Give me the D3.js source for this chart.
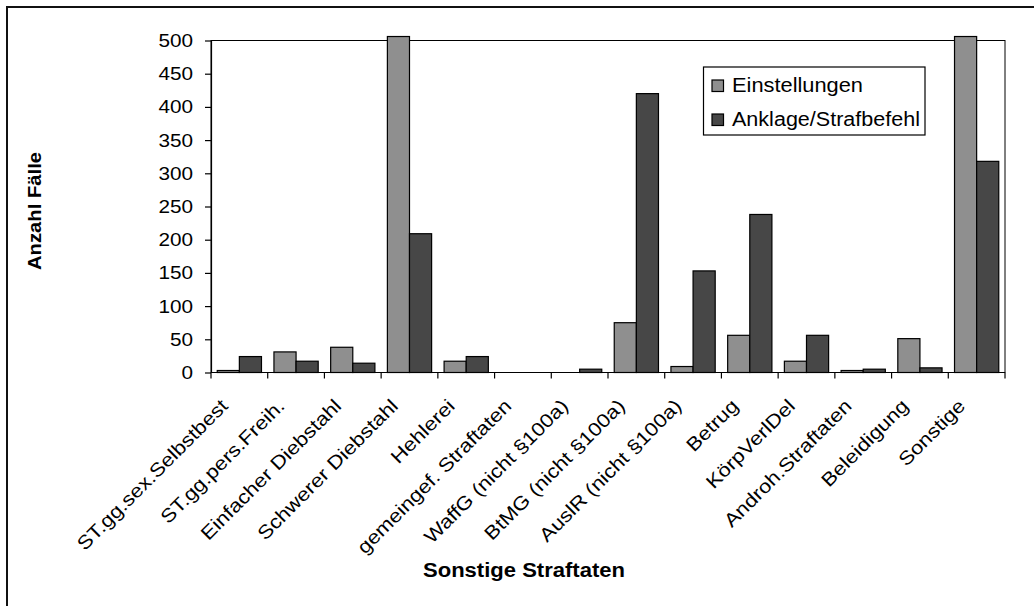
<!DOCTYPE html>
<html><head><meta charset="utf-8">
<script src="https://cdn.jsdelivr.net/npm/d3@7"></script>
<style>
body{margin:0;background:#fff}
svg{display:block;font-family:"Liberation Sans",Arial,sans-serif}
</style>
</head><body>
<svg id="c" width="1034" height="606"></svg>
<script>
const categories = ["ST.gg.sex.Selbstbest","ST.gg.pers.Freih.","Einfacher Diebstahl","Schwerer Diebstahl","Hehlerei","gemeingef. Straftaten","WaffG (nicht §100a)","BtMG (nicht §100a)","AuslR (nicht §100a)","Betrug","KörpVerlDel","Androh.Straftaten","Beleidigung","Sonstige"];
const seriesNames = ["Einstellungen","Anklage/Strafbefehl"];
// bars over 500 run past the top of the value axis in the original
const einstellungen = [3, 31, 38, 506, 17, 0, 0, 75, 9, 56, 17, 3, 51, 506];
const anklage = [24, 17, 14, 209, 24, 0, 5, 420, 153, 238, 56, 5, 7, 318];
const yTicks = [0, 50, 100, 150, 200, 250, 300, 350, 400, 450, 500];
const colors = ["#8f8f8f", "#474747"];
const xTitle = "Sonstige Straftaten";
const yTitle = "Anzahl Fälle";

const svg = d3.select("#c");
const W = 1034, H = 606;
const m = {left: 211, right: 1005, top: 40.5, bottom: 372.5};

function stretch(sel, factor) {
  sel.each(function () {
    const L = this.getComputedTextLength();
    d3.select(this).attr("textLength", L * factor).attr("lengthAdjust", "spacingAndGlyphs");
  });
}

svg.append("rect").attr("width", W).attr("height", H).attr("fill", "#fff");
// outer chart frame (cut at right/bottom)
svg.append("path").attr("d", "M7,606 V7 H1034").attr("fill", "none")
  .attr("stroke", "#111").attr("stroke-width", 2);

const x0 = d3.scaleBand().domain(categories).range([m.left, m.right])
  .paddingInner(0.22).paddingOuter(0.11);
const x1 = d3.scaleBand().domain(seriesNames).range([0, x0.bandwidth()]);
const y = d3.scaleLinear().domain([0, 500]).range([m.bottom, m.top]);

// plot area frame
svg.append("rect").attr("x", m.left).attr("y", m.top)
  .attr("width", m.right - m.left).attr("height", m.bottom - m.top)
  .attr("fill", "#fff").attr("stroke", "#000").attr("stroke-width", 1);

const data = categories.map((c, i) => ({cat: c, vals: [einstellungen[i], anklage[i]]}));
const groups = svg.append("g").selectAll("g").data(data).join("g")
  .attr("transform", d => `translate(${x0(d.cat)},0)`);
groups.selectAll("rect").data(d => d.vals.map((v, j) => ({s: seriesNames[j], v, j})))
  .join("rect")
  .attr("x", d => x1(d.s))
  .attr("y", d => y(d.v))
  .attr("width", x1.bandwidth())
  .attr("height", d => y(0) - y(d.v))
  .attr("fill", d => colors[d.j])
  .attr("stroke", "#000").attr("stroke-width", 1.2);

// y axis
const yAxis = svg.append("g").attr("transform", `translate(${m.left},0)`)
  .call(d3.axisLeft(y).tickValues(yTicks).tickSize(6).tickSizeOuter(0).tickPadding(12));
yAxis.selectAll("path,line").attr("stroke", "#000").attr("stroke-width", 1.2);
yAxis.selectAll("text").attr("font-size", 18.5).attr("fill", "#000")
  .attr("font-family", "Liberation Sans, Arial, sans-serif");
stretch(yAxis.selectAll("text"), 1.12);

// x axis (labels via d3 axis, ticks at category boundaries)
const xAxis = svg.append("g").attr("transform", `translate(0,${m.bottom})`)
  .call(d3.axisBottom(x0).tickSize(0).tickPadding(0));
xAxis.select(".domain").remove();
xAxis.selectAll("text")
  .attr("font-size", 19).attr("fill", "#000")
  .attr("font-family", "Liberation Sans, Arial, sans-serif")
  .attr("text-anchor", "end").attr("y", 0).attr("dy", "0.35em")
  .attr("transform", "translate(-15,30) rotate(-45)");
stretch(xAxis.selectAll("text"), 1.15);

const off = (x0.step() - x0.bandwidth()) / 2;
const bounds = categories.map(c => x0(c) - off).concat([m.right]);
svg.append("line").attr("x1", m.left).attr("x2", m.right)
  .attr("y1", m.bottom).attr("y2", m.bottom).attr("stroke", "#000").attr("stroke-width", 1.2);
svg.append("g").selectAll("line").data(bounds).join("line")
  .attr("x1", d => d).attr("x2", d => d)
  .attr("y1", m.bottom).attr("y2", m.bottom + 6)
  .attr("stroke", "#000").attr("stroke-width", 1.2);

// axis titles
svg.append("text").attr("x", 524).attr("y", 577).attr("text-anchor", "middle")
  .attr("font-size", 19.5).attr("font-weight", "bold").attr("fill", "#000")
  .attr("textLength", 202).attr("lengthAdjust", "spacingAndGlyphs").text(xTitle);
svg.append("text").attr("transform", "translate(41,211) rotate(-90)").attr("text-anchor", "middle")
  .attr("font-size", 17.5).attr("font-weight", "bold").attr("fill", "#000")
  .attr("textLength", 118).attr("lengthAdjust", "spacingAndGlyphs").text(yTitle);

// legend
const lg = svg.append("g");
lg.append("rect").attr("x", 703.5).attr("y", 67).attr("width", 221.5).attr("height", 68)
  .attr("fill", "#fff").attr("stroke", "#000").attr("stroke-width", 1.2);
const items = lg.selectAll("g").data(seriesNames).join("g")
  .attr("transform", (d, i) => `translate(712,${80 + i * 34})`);
items.append("rect").attr("width", 11.5).attr("height", 11.5)
  .attr("fill", (d, i) => colors[i]).attr("stroke", "#000").attr("stroke-width", 1.2);
const lt = items.append("text").attr("x", 20).attr("y", 11.5)
  .attr("font-size", 20).attr("fill", "#000").text(d => d);
lt.each(function (d, i) {
  d3.select(this).attr("textLength", [131, 188][i]).attr("lengthAdjust", "spacingAndGlyphs");
});
</script>
</body></html>
